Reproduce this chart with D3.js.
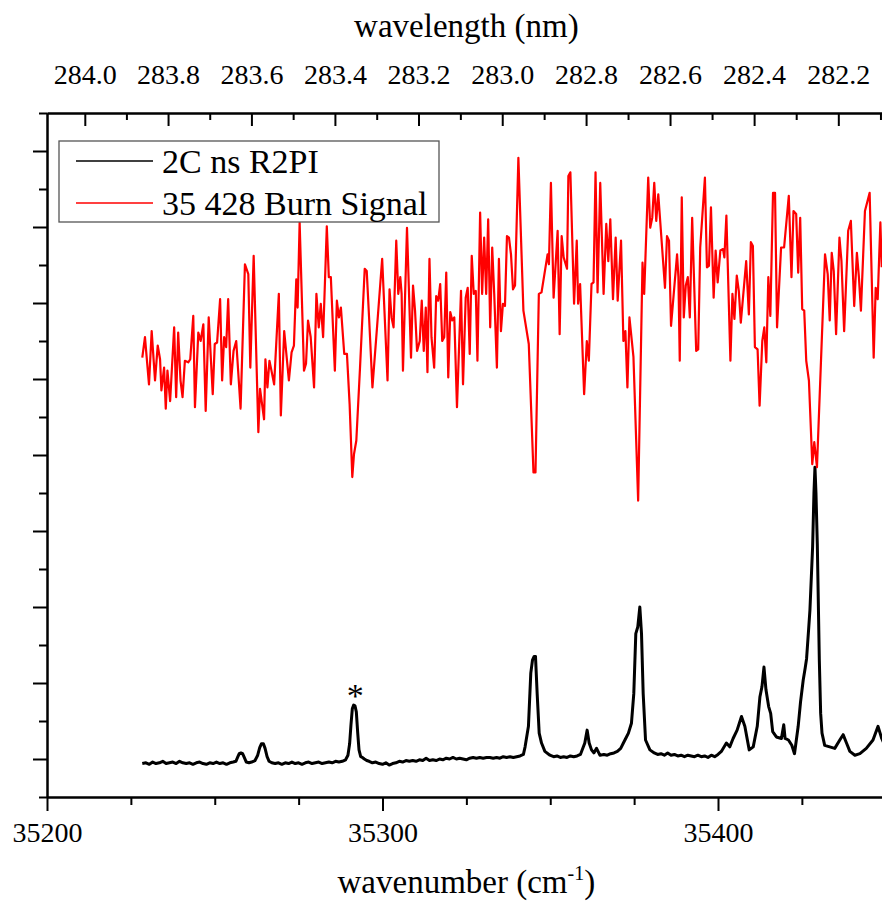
<!DOCTYPE html>
<html>
<head>
<meta charset="utf-8">
<script src="https://cdn.jsdelivr.net/npm/d3@7"></script>
<style>
  html, body { margin: 0; padding: 0; background: #fff; }
  svg { display: block; }
  svg text { font-family: "Liberation Serif", "Times New Roman", serif !important; fill: #000; }
</style>
</head>
<body>
<div id="chart"></div>
<script>
// ---- data -------------------------------------------------------------
const wavenumberTicks = [35200, 35300, 35400];
const wavenumberMinorTicks = [35225, 35250, 35275, 35325, 35350, 35375, 35425, 35450];
const wavelengthTicks = [284.0, 283.8, 283.6, 283.4, 283.2, 283.0, 282.8, 282.6, 282.4, 282.2];
const wavelengthMinorTicks = [283.9, 283.7, 283.5, 283.3, 283.1, 282.9, 282.7, 282.5, 282.3, 282.1];
const intensityTicks = [0, 1, 2, 3, 4, 5, 6, 7, 8];
const intensityMinorTicks = [-0.5, 0.5, 1.5, 2.5, 3.5, 4.5, 5.5, 6.5, 7.5, 8.5];

const seriesNames = ["2C ns R2PI", "35 428 Burn Signal"];
const seriesColors = ["#000000", "#ff0000"];

// two-colour R2PI spectrum: [wavenumber (cm^-1), intensity]
const r2piSignal = [
  [35228.4,-0.06],[35229.5,-0.05],[35230.5,-0.07],[35231.5,-0.04],[35232.5,-0.06],[35233.5,-0.05],
  [35234.5,-0.03],[35235.5,-0.06],[35236.5,-0.05],[35237.5,-0.04],[35238.5,-0.06],[35239.5,-0.03],
  [35240.5,-0.05],[35241.5,-0.06],[35242.5,-0.05],[35243.5,-0.07],[35244.5,-0.05],[35245.5,-0.04],
  [35246.5,-0.06],[35247.5,-0.07],[35248.5,-0.05],[35249.5,-0.06],[35250.5,-0.04],[35251.5,-0.06],
  [35252.5,-0.05],[35253.5,-0.07],[35254.5,-0.05],[35255.5,-0.04],[35256.3,-0.03],[35256.8,0.02],
  [35257.3,0.07],[35257.8,0.08],[35258.3,0.07],[35258.8,0.02],[35259.4,-0.04],[35260.2,-0.05],
  [35261.0,-0.04],[35262.0,-0.02],[35262.8,0.05],[35263.4,0.15],[35263.9,0.20],[35264.5,0.20],
  [35265.0,0.14],[35265.6,0.03],[35266.2,-0.03],[35267,-0.05],[35268,-0.06],[35269,-0.05],
  [35270,-0.07],[35271,-0.05],[35272,-0.06],[35273,-0.04],[35274,-0.06],[35275,-0.05],
  [35276,-0.07],[35277,-0.05],[35278,-0.04],[35279,-0.06],[35280,-0.05],[35281,-0.04],
  [35282,-0.06],[35283,-0.05],[35284,-0.04],[35285,-0.05],[35286,-0.03],[35287,-0.04],
  [35288,-0.03],[35289,-0.01],[35289.7,0.05],[35290.2,0.20],[35290.6,0.45],[35291.0,0.66],
  [35291.4,0.71],[35291.8,0.70],[35292.2,0.62],[35292.6,0.35],[35293.0,0.12],[35293.5,0.03],
  [35294.0,0.02],[35294.6,0.00],[35295.3,-0.02],[35296,-0.03],[35297,-0.05],[35298,-0.04],
  [35299,-0.06],[35300,-0.07],[35301,-0.05],[35302,-0.08],[35303,-0.06],[35304,-0.05],
  [35305,-0.03],[35306,-0.04],[35307,-0.02],[35308,-0.03],[35309,-0.02],[35310,-0.03],
  [35311,-0.01],[35312,-0.02],[35313,0.01],[35314,-0.02],[35315,-0.01],[35316,-0.02],
  [35317,0.00],[35318,-0.01],[35319,0.01],[35320,0.00],[35321,0.02],[35322,0.00],
  [35323,0.01],[35324,0.00],[35325,-0.01],[35326,0.01],[35327,0.02],[35328,0.01],
  [35329,0.02],[35330,0.01],[35331,0.02],[35332,0.02],[35333,0.01],[35334,0.02],
  [35335,0.01],[35336,0.03],[35337,0.02],[35338,0.03],[35339,0.02],[35340,0.03],
  [35341,0.04],[35342,0.06],[35342.5,0.16],[35343.5,0.43],[35344.2,1.13],[35344.7,1.30],
  [35345.2,1.35],[35345.6,1.35],[35346.1,0.86],[35346.7,0.34],[35347.4,0.21],[35348.4,0.10],
  [35349.9,0.05],[35351,0.03],[35352,0.04],[35353,0.02],[35354,0.03],[35355,0.02],
  [35356,0.04],[35357,0.03],[35358,0.04],[35359,0.06],[35360.3,0.21],[35361.0,0.38],
  [35361.6,0.21],[35362.3,0.12],[35363.0,0.08],[35363.8,0.14],[35364.8,0.05],[35366,0.06],
  [35367,0.05],[35368,0.07],[35369,0.08],[35370,0.10],[35371,0.14],[35371.8,0.21],
  [35372.6,0.28],[35373.3,0.34],[35374.2,0.47],[35374.9,0.86],[35375.5,1.65],[35376.1,1.74],
  [35376.7,2.00],[35377.2,1.65],[35377.7,0.86],[35378.4,0.25],[35379.7,0.12],[35381,0.08],
  [35382,0.06],[35383,0.07],[35384,0.05],[35385,0.08],[35386,0.05],[35387,0.06],
  [35388,0.04],[35389,0.05],[35390,0.03],[35391,0.05],[35392,0.04],[35393,0.03],
  [35394,0.05],[35395,0.03],[35396,0.04],[35397,0.02],[35398,0.05],[35399,0.03],
  [35400,0.06],[35401,0.10],[35402.5,0.21],[35403.5,0.16],[35404.5,0.27],[35405.7,0.38],
  [35407.0,0.56],[35408.0,0.43],[35409.3,0.12],[35410.5,0.16],[35411.7,0.43],[35412.5,0.82],
  [35413.1,0.95],[35413.7,1.21],[35414.3,0.91],[35415.1,0.69],[35415.7,0.60],[35416.3,0.36],
  [35417.4,0.29],[35418.9,0.27],[35419.6,0.45],[35420.0,0.27],[35421.0,0.25],[35422.0,0.18],
  [35422.8,0.07],[35423.9,0.43],[35424.6,0.75],[35425.4,1.04],[35426.0,1.20],[35426.4,1.32],
  [35427.0,1.70],[35427.4,1.96],[35428.2,2.79],[35428.6,3.50],[35428.9,3.84],[35429.2,3.50],
  [35429.6,2.83],[35430.2,1.30],[35430.6,0.60],[35431.0,0.34],[35431.8,0.18],[35433.3,0.16],
  [35434.8,0.14],[35436.3,0.25],[35437.3,0.32],[35438.3,0.21],[35439.3,0.10],[35440.8,0.05],
  [35442.3,0.07],[35444.2,0.14],[35446.2,0.25],[35447.7,0.43],[35448.8,0.27],[35450,0.15]
];

// hole-burning spectrum, burn laser fixed at 35 428 cm^-1: [wavenumber, intensity]
const burnSignal = [
  [35228.4,5.28],[35229.2,5.55],[35230.4,4.93],[35231.2,5.63],[35232.2,4.98],[35233.0,5.44],
  [35233.7,5.26],[35234.1,4.85],[35234.9,5.15],[35235.4,4.61],[35235.9,5.11],[35236.7,4.71],
  [35237.9,5.68],[35238.5,4.76],[35239.1,5.61],[35239.8,4.98],[35240.4,4.76],[35241.1,5.24],
  [35242.1,5.22],[35242.7,5.26],[35243.6,5.83],[35244.1,4.63],[35245.1,5.61],[35245.8,5.50],
  [35246.6,5.72],[35247.3,4.58],[35248.2,5.81],[35249.4,4.80],[35250.0,5.46],[35250.7,5.48],
  [35251.6,6.05],[35252.2,4.98],[35252.8,5.55],[35253.4,5.42],[35254.0,6.05],[35254.8,4.93],
  [35255.6,5.37],[35256.4,5.50],[35257.7,4.61],[35259.0,6.51],[35260.0,6.38],[35260.6,5.15],
  [35261.6,6.62],[35263.0,4.30],[35263.5,4.87],[35264.7,4.47],[35265.1,5.26],[35265.7,4.89],
  [35266.3,5.24],[35266.9,5.11],[35267.7,4.93],[35269.1,6.12],[35269.7,4.52],[35270.7,5.63],
  [35272.1,4.98],[35272.9,5.35],[35273.6,5.44],[35274.3,6.31],[35274.7,5.94],[35275.3,7.06],
  [35276.6,5.11],[35277.2,5.20],[35277.8,5.77],[35278.6,5.55],[35279.6,4.89],[35280.3,6.12],
  [35281.0,5.68],[35281.6,5.99],[35282.3,5.55],[35283.4,7.01],[35284.0,6.34],[35284.6,6.34],
  [35285.8,5.11],[35286.4,6.03],[35287.0,5.81],[35287.6,5.94],[35288.6,5.33],[35289.4,5.33],
  [35290.2,4.67],[35291.0,3.71],[35291.5,4.01],[35292.2,4.19],[35293.3,5.15],[35294.7,6.45],
  [35295.3,6.42],[35296.0,5.81],[35297.0,4.89],[35298.4,5.70],[35299.9,6.58],[35301.5,4.98],
  [35302.1,6.18],[35302.7,5.81],[35303.3,5.68],[35304.1,6.82],[35304.7,6.12],[35305.3,6.34],
  [35305.7,6.12],[35306.1,5.11],[35307.3,6.99],[35308.5,5.28],[35309.1,6.23],[35309.7,5.90],
  [35310.3,5.37],[35311.1,5.50],[35311.7,6.03],[35312.3,5.37],[35312.9,5.94],[35313.4,5.09],
  [35314.0,6.58],[35314.6,5.55],[35315.4,5.15],[35316.0,6.09],[35316.6,6.03],[35317.2,6.25],
  [35317.8,5.50],[35318.4,5.55],[35319.0,6.40],[35319.6,5.02],[35320.2,5.88],[35320.8,5.77],
  [35321.4,5.81],[35322.2,4.63],[35323.4,6.16],[35324.0,4.93],[35324.8,6.07],[35325.4,6.20],
  [35326.0,5.33],[35326.6,6.62],[35327.2,6.12],[35327.8,6.16],[35328.3,5.24],[35329.1,7.19],
  [35329.7,6.12],[35330.3,6.86],[35330.9,6.12],[35331.5,7.10],[35332.1,5.68],[35332.7,6.73],
  [35333.3,6.12],[35334.1,5.15],[35334.7,6.58],[35335.3,5.63],[35335.9,5.99],[35336.5,5.96],
  [35337.1,6.88],[35337.7,6.86],[35338.3,6.64],[35338.9,6.18],[35339.5,6.23],[35340.5,7.91],
  [35342.0,5.90],[35343.6,5.46],[35345.0,3.77],[35345.6,3.77],[35346.6,6.12],[35347.4,6.14],
  [35349.2,6.64],[35349.6,6.51],[35350.2,7.58],[35351.0,6.07],[35352.2,6.95],[35352.8,5.59],
  [35353.4,6.88],[35354.0,6.60],[35355.0,6.45],[35355.4,7.67],[35356.0,7.72],[35357.1,5.99],
  [35357.9,6.82],[35358.3,5.99],[35358.9,6.25],[35360.1,4.80],[35360.9,5.50],[35361.5,5.24],
  [35362.3,6.25],[35362.9,6.27],[35363.5,7.72],[35364.1,6.14],[35364.9,7.58],[35365.9,6.12],
  [35366.7,7.04],[35367.3,6.55],[35367.9,7.10],[35368.7,6.05],[35369.5,6.86],[35370.1,6.03],
  [35371.1,6.82],[35371.8,5.50],[35372.4,5.63],[35373.0,4.89],[35373.6,5.81],[35374.8,5.29],
  [35376.2,3.40],[35377.5,6.53],[35378.0,6.12],[35379.2,7.65],[35379.8,6.99],[35380.4,7.12],
  [35381.0,7.58],[35381.6,7.08],[35382.2,7.43],[35384.2,6.20],[35384.8,6.88],[35385.4,6.82],
  [35386.0,5.70],[35387.8,6.64],[35388.2,6.34],[35388.6,5.24],[35389.2,7.39],[35389.8,5.81],
  [35390.4,6.23],[35391.0,6.34],[35391.6,5.81],[35392.3,7.12],[35393.5,5.37],[35394.1,5.39],
  [35394.7,6.73],[35396.1,7.65],[35396.7,6.47],[35397.3,6.49],[35397.9,7.26],[35398.7,6.07],
  [35399.3,6.69],[35399.9,6.27],[35400.7,6.69],[35401.5,6.71],[35401.9,6.60],[35402.5,7.15],
  [35403.7,5.24],[35404.3,6.12],[35404.9,5.79],[35405.6,6.36],[35406.2,6.16],[35406.8,5.74],
  [35408.4,6.55],[35409.2,5.85],[35409.8,6.80],[35410.4,6.75],[35411.0,5.42],[35411.8,5.39],
  [35412.4,4.65],[35413.2,5.50],[35413.8,5.68],[35414.4,5.22],[35415.0,6.34],[35415.6,5.83],
  [35416.4,7.45],[35417.0,7.45],[35417.6,5.68],[35418.8,6.73],[35419.7,6.73],[35421.1,7.41],
  [35421.9,6.34],[35422.5,7.21],[35423.3,7.17],[35423.9,6.40],[35424.5,7.12],[35425.1,5.92],
  [35425.7,5.90],[35426.3,5.24],[35427.1,4.98],[35428.1,3.88],[35428.7,4.17],[35429.5,3.84],
  [35431.9,6.64],[35432.7,6.38],[35433.3,5.77],[35433.9,6.66],[35434.5,6.42],[35435.2,5.59],
  [35436.2,6.86],[35436.8,6.55],[35437.6,5.63],[35438.8,6.95],[35439.6,7.08],[35440.6,5.96],
  [35441.4,6.66],[35442.0,6.34],[35442.6,5.90],[35443.8,7.21],[35445.2,7.45],[35446.4,5.28],
  [35447.0,6.20],[35447.6,6.05],[35448.4,7.06],[35448.8,6.47]
];

// band marked with an asterisk in the R2PI trace
const markedPeak = [35291.6, 0.71];

// ---- layout -----------------------------------------------------------
const W = 882, H = 909;
const plot = { left: 47, right: 885.75, top: 113, bottom: 797 };
const SERIF = "'Liberation Serif', 'Times New Roman', serif";

const svg = d3.select("#chart").append("svg")
  .attr("width", W).attr("height", H);

const x = d3.scaleLinear().domain([35200, 35450]).range([plot.left, plot.right]);
const y = d3.scaleLinear().domain([-0.5, 8.5]).range([plot.bottom, plot.top]);

svg.append("defs").append("clipPath").attr("id", "plot-clip")
  .append("rect")
  .attr("x", plot.left).attr("y", plot.top)
  .attr("width", plot.right - plot.left).attr("height", plot.bottom - plot.top);

// ---- traces -----------------------------------------------------------
const line = d3.line().x(d => x(d[0])).y(d => y(d[1]));
const traces = svg.append("g").attr("clip-path", "url(#plot-clip)");

traces.append("path").datum(r2piSignal)
  .attr("d", line).attr("fill", "none")
  .attr("stroke", seriesColors[0]).attr("stroke-width", 3)
  .attr("stroke-linejoin", "round");

traces.append("path").datum(burnSignal)
  .attr("d", line).attr("fill", "none")
  .attr("stroke", seriesColors[1]).attr("stroke-width", 2.2)
  .attr("stroke-linejoin", "round");

svg.append("text")
  .attr("x", x(markedPeak[0]) + 1)
  .attr("y", y(markedPeak[1]) + 2)
  .attr("text-anchor", "middle")
  .style("font-family", SERIF)
  .attr("font-size", 34)
  .text("*");

// ---- axes -------------------------------------------------------------
function styleAxis(g) {
  g.attr("font-family", null);
  g.select(".domain").attr("stroke", "#000").attr("stroke-width", 2);
  g.selectAll(".tick line").attr("stroke", "#000").attr("stroke-width", 2);
  g.selectAll(".tick text").attr("font-size", 28).style("font-family", SERIF);
}

// bottom: wavenumber
svg.append("g").attr("transform", `translate(0,${plot.bottom})`)
  .call(d3.axisBottom(x).tickValues(wavenumberMinorTicks).tickSize(8).tickSizeOuter(0).tickFormat(""))
  .call(styleAxis);
svg.append("g").attr("transform", `translate(0,${plot.bottom})`)
  .call(d3.axisBottom(x).tickValues(wavenumberTicks).tickSize(14).tickSizeOuter(0)
    .tickPadding(11).tickFormat(d3.format("d")))
  .call(styleAxis);

// top: vacuum wavelength, lambda(nm) = 1e7 / wavenumber
svg.append("g").attr("transform", `translate(0,${plot.top})`)
  .call(d3.axisTop(x).tickValues(wavelengthMinorTicks.map(w => 1e7 / w))
    .tickSize(-7).tickSizeOuter(0).tickFormat(""))
  .call(styleAxis);
svg.append("g").attr("transform", `translate(0,${plot.top})`)
  .call(d3.axisTop(x).tickValues(wavelengthTicks.map(w => 1e7 / w))
    .tickSize(-13).tickSizeOuter(0).tickPadding(29)
    .tickFormat(v => (1e7 / v).toFixed(1)))
  .call(styleAxis);

// left: intensity (arbitrary units, unlabelled)
svg.append("g").attr("transform", `translate(${plot.left},0)`)
  .call(d3.axisLeft(y).tickValues(intensityMinorTicks).tickSize(8).tickSizeOuter(0).tickFormat(""))
  .call(styleAxis);
svg.append("g").attr("transform", `translate(${plot.left},0)`)
  .call(d3.axisLeft(y).tickValues(intensityTicks).tickSize(14).tickSizeOuter(0).tickFormat(""))
  .call(styleAxis);

// axis titles
const cx = (plot.left + plot.right) / 2;
svg.append("text").attr("x", cx).attr("y", 37)
  .attr("text-anchor", "middle").attr("font-size", 33)
  .style("font-family", SERIF)
  .text("wavelength (nm)");

const xt = svg.append("text").attr("x", cx).attr("y", 893)
  .attr("text-anchor", "middle").attr("font-size", 33)
  .style("font-family", SERIF);
xt.append("tspan").text("wavenumber (cm");
xt.append("tspan").attr("font-size", 20).attr("dy", -13).text("-1");
xt.append("tspan").attr("dy", 13).text(")");

// ---- legend -----------------------------------------------------------
const legend = svg.append("g");
legend.append("rect")
  .attr("x", 59).attr("y", 141).attr("width", 380).attr("height", 81)
  .attr("fill", "#fff").attr("stroke", "#555").attr("stroke-width", 1.3);

seriesNames.forEach((name, i) => {
  const ly = 161 + i * 42;
  legend.append("line")
    .attr("x1", 76).attr("x2", 153).attr("y1", ly).attr("y2", ly)
    .attr("stroke", seriesColors[i]).attr("stroke-width", 1.6);
  legend.append("text")
    .attr("x", 162).attr("y", ly + 12)
    .attr("font-size", 34)
    .style("font-family", SERIF)
    .text(name);
});
</script>
</body>
</html>
